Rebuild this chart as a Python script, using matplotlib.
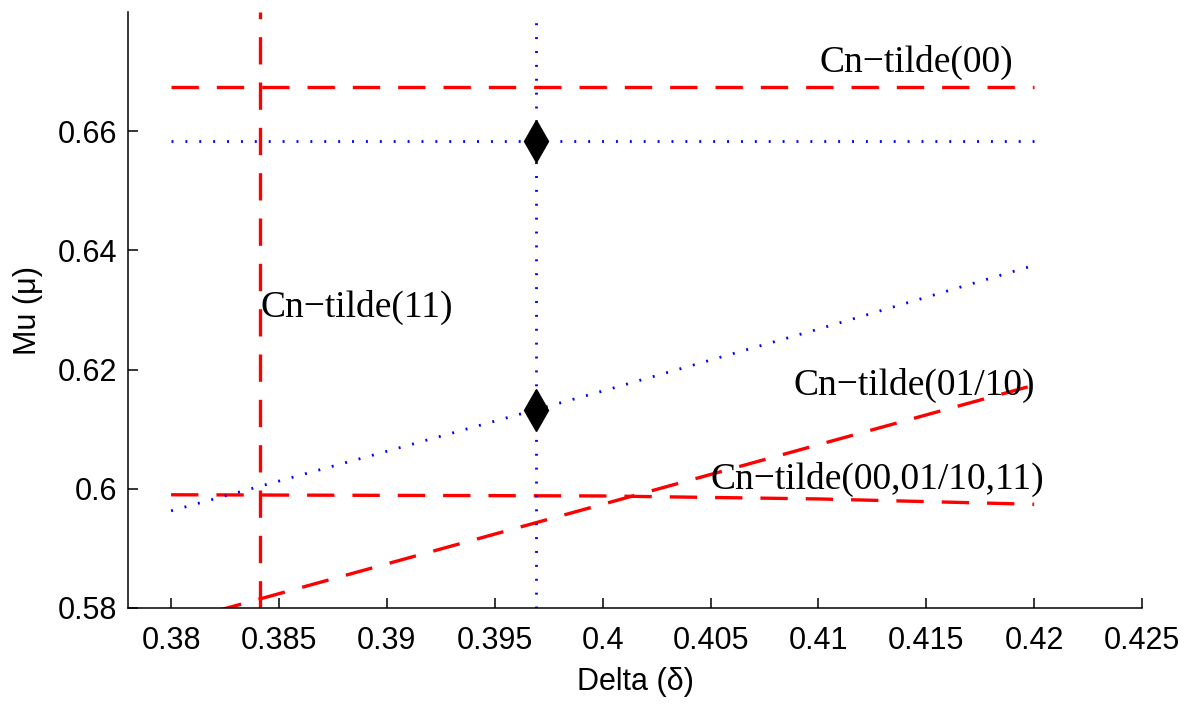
import matplotlib
matplotlib.use("Agg")
import matplotlib.pyplot as plt

# values
delta = [0.38, 0.39, 0.40, 0.41, 0.42]
cn00_mu = [0.6675, 0.6675, 0.6675, 0.6675, 0.6675]
opt_mu = [0.6583, 0.6583, 0.6583, 0.6583, 0.6583]
mu_curve = [0.5963, 0.6063, 0.6164, 0.6268, 0.6375]
cn0110_mu = [0.5774, 0.5874, 0.5974, 0.6074, 0.6174]
cnall_mu = [0.5990, 0.5989, 0.5988, 0.5983, 0.5974]

cn11_delta = 0.3841
opt_delta = 0.3969
opt_top = 0.6788
pts_mu = [0.6583, 0.6132]

xticks = [0.38, 0.385, 0.39, 0.395, 0.40, 0.405, 0.41, 0.415, 0.42, 0.425]
xtick_labels = ["0.38", "0.385", "0.39", "0.395", "0.4", "0.405", "0.41", "0.415", "0.42", "0.425"]
yticks = [0.58, 0.60, 0.62, 0.64, 0.66]
ytick_labels = ["0.58", "0.6", "0.62", "0.64", "0.66"]

labels = ["Cn\u2212tilde(00)", "Cn\u2212tilde(11)", "Cn\u2212tilde(01/10)", "Cn\u2212tilde(00,01/10,11)"]
label_x = [0.41004, 0.38413, 0.40883, 0.40502]
label_y = [0.67157, 0.63048, 0.6174, 0.60164]

plt.rcParams['font.family'] = ['Liberation Sans', 'DejaVu Sans']

fig = plt.figure(figsize=(11.88, 7.11), dpi=100)
ax = fig.add_axes([0.1077, 0.1449, 0.8536, 0.8381])

red = dict(color='red', lw=2.4, dashes=(8.2, 5.4))
blue = dict(color='blue', lw=2.0, dashes=(0.7, 4.3))

ax.plot(delta, cn00_mu, **red)
ax.plot(delta, cn0110_mu, **red)
ax.plot(delta, cnall_mu, **red)
ax.plot([cn11_delta, cn11_delta], [0.58, 0.68], **red)

ax.plot(delta, opt_mu, **blue)
ax.plot(delta, mu_curve, **blue)
ax.plot([opt_delta, opt_delta], [0.58, opt_top], **blue)

ax.plot([opt_delta] * len(pts_mu), pts_mu, ls='none', marker='d', ms=21, color='black')

for t, x, y in zip(labels, label_x, label_y):
    ax.text(x, y, t, ha='left', va='center', fontsize=27, family='Liberation Serif')

ax.set_xlim(0.378, 0.425)
ax.set_ylim(0.58, 0.68)
ax.set_xticks(xticks)
ax.set_xticklabels(xtick_labels)
ax.set_yticks(yticks)
ax.set_yticklabels(ytick_labels)
ax.tick_params(direction='in', length=7, width=1.1, labelsize=22)
ax.tick_params(axis='x', pad=13)
ax.tick_params(axis='y', pad=8)
ax.spines['top'].set_visible(False)
ax.spines['right'].set_visible(False)
ax.spines['left'].set_linewidth(1.1)
ax.spines['bottom'].set_linewidth(1.1)

ax.set_xlabel("Delta (\u03b4)", fontsize=22, labelpad=8)
ax.set_ylabel("Mu (\u03bc)", fontsize=22, labelpad=10)

fig.savefig("out.png", dpi=100)
